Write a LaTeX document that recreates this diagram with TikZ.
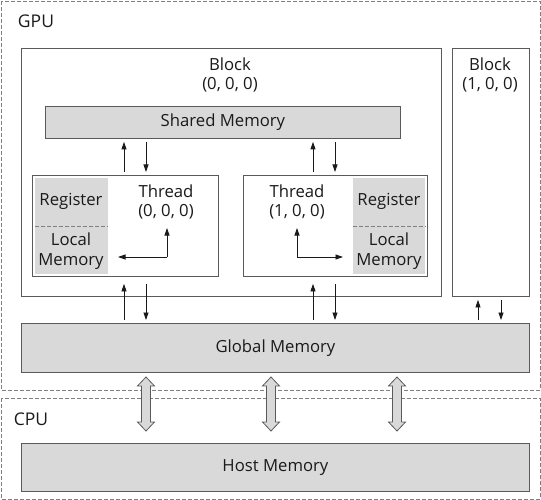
\documentclass[tikz,border=0pt]{standalone}
\usepackage{fontspec}
\setmainfont{Open Sans}
\usetikzlibrary{arrows.meta,calc}
\definecolor{fillg}{HTML}{D9D9D9}
\definecolor{lineg}{HTML}{5A5A5A}
\definecolor{dashg}{HTML}{7F7F7F}
\definecolor{txt}{HTML}{1A1A1A}
\begin{document}
\begin{tikzpicture}[x=1pt,y=-1pt,
  box/.style={draw=lineg, line width=0.9pt, fill=white, inner sep=0pt, anchor=north west},
  mem/.style={draw=lineg, line width=0.9pt, fill=fillg, inner sep=0pt, anchor=north west},
  part/.style={fill=fillg, inner sep=0pt, anchor=north west, minimum width=73pt, minimum height=48pt},
  region/.style={draw=dashg, line width=0.9pt, dash pattern=on 4pt off 2pt},
  lbl/.style={font=\fontsize{16.7}{19.5}\selectfont, align=center, text=txt, inner sep=0pt},
  arr/.style={-{Triangle[length=7.5pt,width=5pt]}, line width=0.8pt, draw=txt, shorten <=3pt, shorten >=3pt},
  inarr/.style={-{Triangle[length=7.5pt,width=5pt]}, line width=0.8pt, draw=txt},
  darr/.style={fill=fillg, draw=lineg, line width=0.8pt, line join=miter}
]
\useasboundingbox (0,0) rectangle (541,500);
% regions
\draw[region] (1,1) rectangle (540,390);
\draw[region] (1,398) rectangle (540,499);
\node[lbl, font=\fontsize{17.5}{20}\selectfont] (gpu) at (36,21) {GPU};
\node[lbl, font=\fontsize{17.5}{20}\selectfont] (cpu) at (31,419) {CPU};
% blocks
\node[box, minimum width=420pt, minimum height=248pt] (b0) at (21,48) {};
\node[box, minimum width=77pt, minimum height=248pt] (b1) at (452,48) {};
\node[lbl] (b0l) at (230,75) {Block\\(0, 0, 0)};
\node[lbl] (b1l) at (490,75) {Block\\(1, 0, 0)};
% shared memory
\node[mem, minimum width=355pt, minimum height=32pt] (sm) at (45,106) {};
\node[lbl] at (sm.center) {Shared Memory};
% threads
\node[box, minimum width=186pt, minimum height=101pt] (t0) at (32,175) {};
\node[box, minimum width=184pt, minimum height=101pt] (t1) at (243,175) {};
\node[part] (r0) at (35,178) {};
\node[part] (l0) at (35,226) {};
\node[part, minimum width=72pt] (r1) at (353,178) {};
\node[part, minimum width=72pt] (l1) at (353,226) {};
\draw[dashg, line width=0.9pt, dash pattern=on 4pt off 2pt] (r0.south west) -- (r0.south east);
\draw[dashg, line width=0.9pt, dash pattern=on 4pt off 2pt] (r1.south west) -- (r1.south east);
\node[lbl] at (71,201) {Register};
\node[lbl] at (71,251) {Local\\Memory};
\node[lbl] at (389,201) {Register};
\node[lbl] at (389,251) {Local\\Memory};
\node[lbl] (t0l) at (166,202) {Thread\\(0, 0, 0)};
\node[lbl] (t1l) at (297,202) {Thread\\(1, 0, 0)};
% global and host memory
\node[mem, minimum width=508pt, minimum height=49pt] (gm) at (21,323) {};
\node[lbl] at (gm.center) {Global Memory};
\node[mem, minimum width=508pt, minimum height=48pt] (hm) at (21,443) {};
\node[lbl] at (hm.center) {Host Memory};
% columns
\coordinate (xa) at (124,0);
\coordinate (xb) at (146,0);
\coordinate (xc) at (313,0);
\coordinate (xd) at (335,0);
\coordinate (xe) at (478,0);
\coordinate (xf) at (501,0);
% shared <-> threads
\draw[arr] (xa |- t0.north) -- (xa |- sm.south);
\draw[arr] (xb |- sm.south) -- (xb |- t0.north);
\draw[arr] (xc |- t1.north) -- (xc |- sm.south);
\draw[arr] (xd |- sm.south) -- (xd |- t1.north);
% threads <-> global
\draw[arr, shorten <=3pt, shorten >=7pt] (xa |- gm.north) -- (xa |- t0.south);
\draw[arr, shorten <=7pt, shorten >=3pt] (xb |- t0.south) -- (xb |- gm.north);
\draw[arr, shorten <=3pt, shorten >=7pt] (xc |- gm.north) -- (xc |- t1.south);
\draw[arr, shorten <=7pt, shorten >=3pt] (xd |- t1.south) -- (xd |- gm.north);
% block1 <-> global
\draw[arr] (xe |- gm.north) -- (xe |- b1.south);
\draw[arr] (xf |- b1.south) -- (xf |- gm.north);
% inner thread arrows
\coordinate (c0) at (167,257);
\coordinate (c1) at (297,257);
\draw[inarr] (c0) -- (167,228);
\draw[inarr] (c0) -- (118,257);
\draw[inarr] (c1) -- (297,228);
\draw[inarr] (c1) -- (343,257);
% double arrows between global and host memory
\foreach \c in {146,271,397}{
  \draw[darr] (\c,377) -- (\c+8.5,386) -- (\c+4.5,386) -- (\c+4.5,422) -- (\c+8.5,422)
    -- (\c,431) -- (\c-8.5,422) -- (\c-4.5,422) -- (\c-4.5,386) -- (\c-8.5,386) -- cycle;
}
\end{tikzpicture}
\end{document}
